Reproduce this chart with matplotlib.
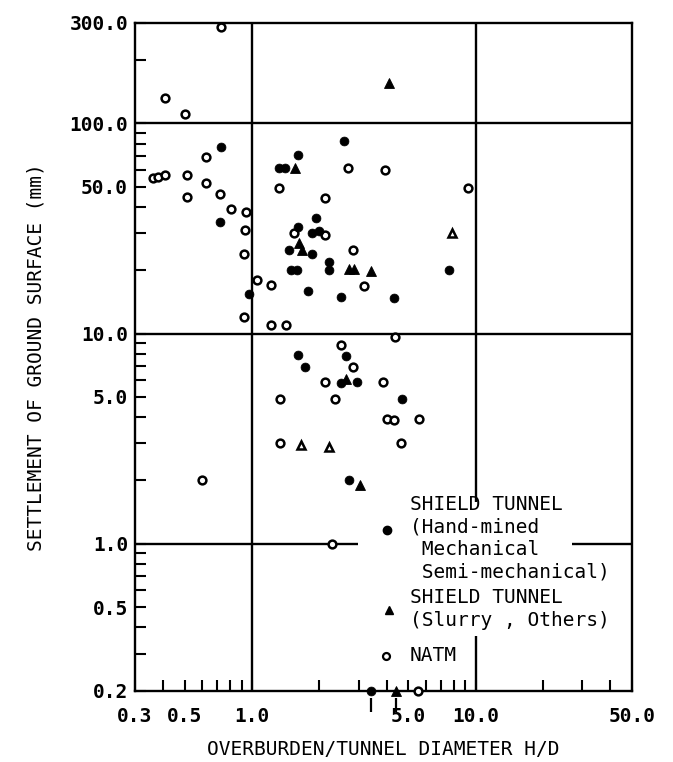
import matplotlib
matplotlib.use('Agg')
import matplotlib.pyplot as plt
import matplotlib.transforms as mtransforms
from matplotlib.patches import Rectangle
from matplotlib.ticker import FixedLocator, FixedFormatter, NullFormatter

# NATM (open circles)
natm_x = [0.73, 0.41, 0.50, 0.62, 0.36, 0.38, 0.41, 0.51, 0.62, 0.51, 0.72, 0.81,
          0.94, 0.93, 0.92, 1.05, 1.22, 0.92, 1.22, 1.42, 1.32, 2.7, 3.95, 2.13,
          9.2, 1.54, 2.12, 2.84, 3.17, 4.36, 2.5, 2.83, 2.12, 3.87, 1.33, 2.34,
          4.0, 4.33, 5.6, 1.33, 4.65, 0.6, 2.28, 5.55]
natm_y = [288, 132, 111, 69, 55, 55.5, 57, 57, 52, 44.5, 46, 39,
          38, 31, 24, 18, 17, 12, 11, 11, 49.5, 61, 60, 44,
          49, 30, 29.5, 25, 16.8, 9.6, 8.8, 6.9, 5.9, 5.9, 4.9, 4.9,
          3.9, 3.87, 3.9, 3.0, 3.0, 2.0, 1.0, 0.2]

# shield tunnel, hand-mined / mechanical / semi-mechanical (filled circles)
hand_x = [0.73, 0.72, 1.32, 1.40, 1.60, 2.59, 1.94, 1.60, 1.86, 2.0, 1.47, 1.86,
          2.21, 2.21, 1.50, 1.59, 7.6, 1.78, 2.5, 4.3, 0.97, 1.61, 2.64, 1.73,
          2.5, 2.96, 4.7, 2.71, 3.39]
hand_y = [77, 34, 61, 61, 71, 82, 35.6, 32, 30, 30.6, 25, 24,
          22, 20, 20, 20, 20, 16, 15, 14.8, 15.4, 7.9, 7.8, 6.9,
          5.8, 5.9, 4.9, 2.0, 0.2]

# shield tunnel, slurry / others (filled triangles)
slurry_x = [4.1, 1.56, 1.62, 1.68, 2.71, 2.85, 3.39, 2.64, 3.04, 4.39]
slurry_y = [155, 61, 27, 25, 20.3, 20.3, 19.8, 6.1, 1.9, 0.2]

# open triangles
tri_open_x = [1.65, 2.22, 7.8]
tri_open_y = [2.95, 2.9, 30]

x_major = [0.3, 0.5, 1.0, 5.0, 10.0, 50.0]
x_minor = [0.4, 0.6, 0.7, 0.8, 0.9, 2, 3, 4, 6, 7, 8, 9, 20, 30, 40]
y_major = [0.2, 0.5, 1.0, 5.0, 10.0, 50.0, 100.0, 300.0]
y_minor = [0.3, 0.4, 0.6, 0.7, 0.8, 0.9, 2, 3, 4, 6, 7, 8, 9,
           20, 30, 40, 60, 70, 80, 90, 200]
grid_x = [1.0, 10.0]
grid_y = [1.0, 10.0, 100.0]

plt.rcParams['font.family'] = ['DejaVu Sans Mono']
FS = 14

fig = plt.figure(figsize=(6.73, 7.62), dpi=100)
ax = fig.add_axes([135 / 673, 71.3 / 762, 497 / 673, 667.7 / 762])
ax.set_xscale('log')
ax.set_yscale('log')
ax.set_xlim(0.3, 50)
ax.set_ylim(0.2, 300)

for v in grid_x:
    ax.axvline(v, color='k', lw=1.7, zorder=2)
for v in grid_y:
    ax.axhline(v, color='k', lw=1.7, zorder=2)

ax.xaxis.set_major_locator(FixedLocator(x_major))
ax.xaxis.set_major_formatter(FixedFormatter(['%.1f' % v for v in x_major]))
ax.xaxis.set_minor_locator(FixedLocator(x_minor))
ax.xaxis.set_minor_formatter(NullFormatter())
ax.yaxis.set_major_locator(FixedLocator(y_major))
ax.yaxis.set_major_formatter(FixedFormatter(['%.1f' % v for v in y_major]))
ax.yaxis.set_minor_locator(FixedLocator(y_minor))
ax.yaxis.set_minor_formatter(NullFormatter())
ax.tick_params(which='both', direction='in', length=8, width=1.5,
               top=False, right=False, labelsize=FS)
ax.tick_params(axis='x', which='both', pad=12)
ax.tick_params(axis='y', which='both', pad=5)
for lbl in ax.get_xticklabels() + ax.get_yticklabels():
    lbl.set_fontweight('bold')
for s in ax.spines.values():
    s.set_linewidth(1.7)

# data
ax.plot(natm_x, natm_y, 'o', ms=5.6, mfc='white', mec='k', mew=1.8,
        ls='none', clip_on=False, zorder=4)
ax.plot(hand_x, hand_y, 'o', ms=6.4, mfc='k', mec='k', mew=0.5,
        ls='none', clip_on=False, zorder=5)
ax.plot(slurry_x, slurry_y, '^', ms=6.6, mfc='k', mec='k', mew=0.6,
        ls='none', clip_on=False, zorder=5)
ax.plot(tri_open_x, tri_open_y, '^', ms=5.4, mfc='white', mec='k', mew=1.8,
        ls='none', clip_on=False, zorder=5)

# marks below the axis for values off the bottom of the scale
ymin = ax.get_ylim()[0]
below = [x for x, y in zip(hand_x + slurry_x, hand_y + slurry_y) if y <= ymin]
off = mtransforms.offset_copy(ax.transData, fig=fig, y=-10, units='points')
ax.plot(below, [ymin] * len(below), '|', ms=10, mew=1.6, color='k',
        transform=off, clip_on=False, zorder=5)

# key
ax.add_patch(Rectangle((0.449, 0.082), 0.43, 0.2, transform=ax.transAxes,
                       fc='white', ec='none', zorder=3))
ax.plot([0.507], [0.2407], 'o', ms=6, color='k', transform=ax.transAxes,
        clip_on=False, zorder=6)
ax.text(0.553, 0.228, 'SHIELD TUNNEL\n(Hand-mined\n Mechanical\n Semi-mechanical)',
        transform=ax.transAxes, fontsize=FS, va='center', ha='left',
        linespacing=1.24, zorder=6)
ax.plot([0.511], [0.1209], '^', ms=6.4, color='k', transform=ax.transAxes,
        clip_on=False, zorder=6)
ax.text(0.553, 0.1224, 'SHIELD TUNNEL\n(Slurry , Others)',
        transform=ax.transAxes, fontsize=FS, va='center', ha='left',
        linespacing=1.24, zorder=6)
ax.plot([0.505], [0.052], 'o', ms=5, mfc='white', mec='k', mew=1.6,
        transform=ax.transAxes, clip_on=False, zorder=6)
ax.text(0.553, 0.052, 'NATM', transform=ax.transAxes, fontsize=FS,
        va='center', ha='left', zorder=6)

ax.set_xlabel('OVERBURDEN/TUNNEL DIAMETER H/D', fontsize=FS)
ax.xaxis.set_label_coords(0.5, -0.0738)
ax.set_ylabel('SETTLEMENT OF GROUND SURFACE (mm)', fontsize=FS)
ax.yaxis.set_label_coords(-0.180, 0.5)

fig.savefig('out.png', dpi=100)
